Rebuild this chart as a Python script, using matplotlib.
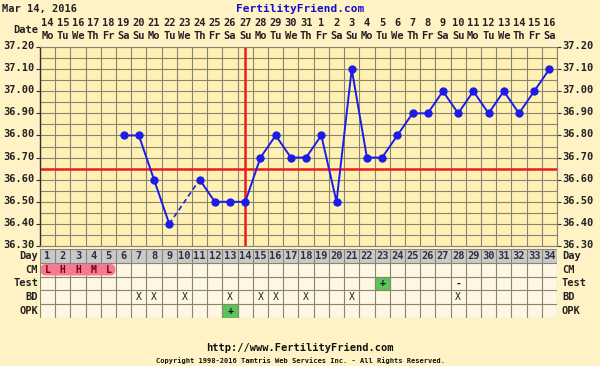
import numpy as np
import matplotlib
matplotlib.use("Agg")
import matplotlib.pyplot as plt
import matplotlib.transforms as mtransforms
from matplotlib.patches import Rectangle, FancyBboxPatch

# ---- chart data --------------------------------------------------------
days = list(range(1, 35))
dates = ["14", "15", "16", "17", "18", "19", "20", "21", "22", "23", "24", "25",
         "26", "27", "28", "29", "30", "31", "1", "2", "3", "4", "5", "6", "7",
         "8", "9", "10", "11", "12", "13", "14", "15", "16"]
weekdays = ["Mo", "Tu", "We", "Th", "Fr", "Sa", "Su",
            "Mo", "Tu", "We", "Th", "Fr", "Sa", "Su",
            "Mo", "Tu", "We", "Th", "Fr", "Sa", "Su",
            "Mo", "Tu", "We", "Th", "Fr", "Sa", "Su",
            "Mo", "Tu", "We", "Th", "Fr", "Sa"]
temps = [None, None, None, None, None,
         36.80, 36.80, 36.60, 36.40, None, 36.60, 36.50, 36.50, 36.50,
         36.70, 36.80, 36.70, 36.70, 36.80, 36.50, 37.10, 36.70, 36.70,
         36.80, 36.90, 36.90, 37.00, 36.90, 37.00, 36.90, 37.00, 36.90,
         37.00, 37.10]
coverline = 36.65
ovulation_day = 14
ytick_vals = [36.30, 36.40, 36.50, 36.60, 36.70, 36.80, 36.90, 37.00, 37.10, 37.20]

cm_days = [1, 2, 3, 4, 5]
cm_vals = ["L", "H", "H", "M", "L"]
test_days = [23, 28]
test_vals = ["+", "-"]
test_positive = [True, False]
bd_days = [7, 8, 10, 13, 15, 16, 18, 21, 28]
opk_days = [13]
opk_vals = ["+"]
row_names = ["Day", "CM", "Test", "BD", "OPK"]

# ---- styling -----------------------------------------------------------
W, H = 600, 366
BG = "#FFF3C6"
PLOT_BG = "#FFF0B4"
CELL_BG = "#FFF6E4"
GRID = "#86866E"
BLUE = "#1C1CE8"
RED = "#EE1C1C"
FONT = "DejaVu Sans Mono"
TB_TOP, TB_BOT = 249, 318


def frac(x0, y0, x1, y1):
    # pixel box (top-left origin) -> figure fraction rect
    return [x0 / W, 1 - y1 / H, (x1 - x0) / W, (y1 - y0) / H]


def ftext(x, y, s, **kw):
    kw.setdefault("family", FONT)
    kw.setdefault("weight", "bold")
    kw.setdefault("va", "center")
    fig.text(x / W, 1 - y / H, s, **kw)


fig = plt.figure(figsize=(6, 3.66), dpi=100, facecolor=BG)

# ---- temperature chart -------------------------------------------------
ax = fig.add_axes(frac(40, 47, 557, 246))
ax.set_facecolor(PLOT_BG)
ax.set_xlim(0.5, 34.5)
ax.set_ylim(36.30, 37.20)

for k in np.arange(0.5, 35, 1.0):
    ax.axvline(k, color=GRID, lw=0.8, zorder=1)
for v in np.arange(36.30, 37.2001, 0.05):
    ax.axhline(v, color=GRID, lw=0.8, zorder=1)

ax.axhline(coverline, color=RED, lw=1.8, zorder=2)
ax.axvline(ovulation_day, color=RED, lw=1.8, zorder=2)

t = np.array([np.nan if v is None else v for v in temps])
d = np.array(days)
ax.plot(d, t, color=BLUE, lw=1.4, marker="o", ms=5, zorder=4)
# dashed bridge over missing readings
valid = np.where(~np.isnan(t))[0]
for a, b in zip(valid[:-1], valid[1:]):
    if b - a > 1:
        ax.plot([d[a], d[b]], [t[a], t[b]], color=BLUE, lw=1.2,
                ls=(0, (3, 2)), zorder=3)

ax.set_xticks([])
ax.set_yticks(ytick_vals)
ax.set_yticklabels([f"{v:.2f}" for v in ytick_vals])
ax.tick_params(axis="y", length=3, width=0.8, color="#333333", pad=1,
               labelsize=7.5, right=True, labelright=True)
nudge = mtransforms.ScaledTranslation(0, 2 / 100, fig.dpi_scale_trans)
for lab in ax.get_yticklabels() + ax.yaxis.get_ticklabels(which="major"):
    lab.set_family(FONT)
    lab.set_weight("bold")
    lab.set_color("#222222")
for tk in ax.yaxis.get_major_ticks():
    tk.label1.set_transform(tk.label1.get_transform() + nudge)
    tk.label2.set_transform(tk.label2.get_transform() + nudge)
    tk.label2.set_family(FONT)
    tk.label2.set_weight("bold")
    tk.label2.set_color("#222222")
for side in ["top", "right", "bottom"]:
    ax.spines[side].set_color(GRID)
    ax.spines[side].set_linewidth(0.8)
ax.spines["left"].set_color("#333333")
ax.spines["left"].set_linewidth(1.0)

# date header
col_w = 517 / 34
for i, (dt, wd) in enumerate(zip(dates, weekdays)):
    cx = 40 + (i + 0.5) * col_w
    ftext(cx, 23, dt, ha="center", fontsize=7.5, color="#222222")
    ftext(cx, 36, wd, ha="center", fontsize=7.5, color="#222222")
ftext(38, 30, "Date", ha="right", fontsize=7.5, color="#222222")

# ---- table below -------------------------------------------------------
tb = fig.add_axes(frac(40, TB_TOP, 557, TB_BOT))
tb.set_facecolor(CELL_BG)
tb.set_xlim(0.5, 34.5)
tb.set_ylim(5, 0)
tb.axis("off")
tb.add_patch(Rectangle((0.5, 0), 34, 5, facecolor=CELL_BG, edgecolor="none", zorder=0))
tb.add_patch(Rectangle((0.5, 0), 34, 1, facecolor="#C9C9CC", edgecolor="none", zorder=1))
for k in np.arange(0.5, 35, 1.0):
    tb.plot([k, k], [0, 5], color=GRID, lw=0.8, zorder=2)
for r in range(6):
    tb.plot([0.5, 34.5], [r, r], color=GRID, lw=0.8, zorder=2)

for dd in days:
    tb.text(dd, 0.5, str(dd), ha="center", va="center", family=FONT,
            weight="bold", fontsize=7.5, color="#303040", zorder=4)

# CM (flow) block
tb.add_patch(FancyBboxPatch((min(cm_days) - 0.45, 1.08), len(cm_days) - 0.1, 0.84,
                            boxstyle="round,pad=0,rounding_size=0.35",
                            facecolor="#F27A92", edgecolor="none", zorder=3))
for dd, v in zip(cm_days, cm_vals):
    tb.text(dd, 1.5, v, ha="center", va="center", family=FONT, weight="bold",
            fontsize=7, color="#7A0010", zorder=4)

for dd, v, pos in zip(test_days, test_vals, test_positive):
    if pos:
        tb.add_patch(Rectangle((dd - 0.5, 2), 1, 1, facecolor="#5CC45C",
                               edgecolor=GRID, lw=0.8, zorder=3))
    tb.text(dd, 2.5, v, ha="center", va="center", family=FONT, weight="bold",
            fontsize=7, color="#111111", zorder=4)

for dd in bd_days:
    tb.text(dd, 3.5, "X", ha="center", va="center", family=FONT,
            fontsize=7, color="#222222", zorder=4)

for dd, v in zip(opk_days, opk_vals):
    tb.add_patch(Rectangle((dd - 0.5, 4), 1, 1, facecolor="#5CC45C",
                           edgecolor=GRID, lw=0.8, zorder=3))
    tb.text(dd, 4.5, v, ha="center", va="center", family=FONT, weight="bold",
            fontsize=7, color="#111111", zorder=4)

row_h = (TB_BOT - TB_TOP) / 5
for r, name in enumerate(row_names):
    yy = TB_TOP + (r + 0.5) * row_h
    ftext(38, yy, name, ha="right", fontsize=7.5, color="#222222")
    ftext(562, yy, name, ha="left", fontsize=7.5, color="#222222")

# ---- titles / footer ---------------------------------------------------
ftext(2, 9, "Mar 14, 2016", ha="left", fontsize=7.5, color="#222222")
ftext(300, 9, "FertilityFriend.com", ha="center", fontsize=8, color="#1010C8")
ftext(300, 348, "http://www.FertilityFriend.com", ha="center", fontsize=7.5,
      color="#111111")
ftext(300, 361, "Copyright 1998-2016 Tamtris Web Services Inc. - All Rights Reserved.",
      ha="center", fontsize=5, color="#111111")

fig.savefig("out.png", dpi=100, facecolor=BG)
